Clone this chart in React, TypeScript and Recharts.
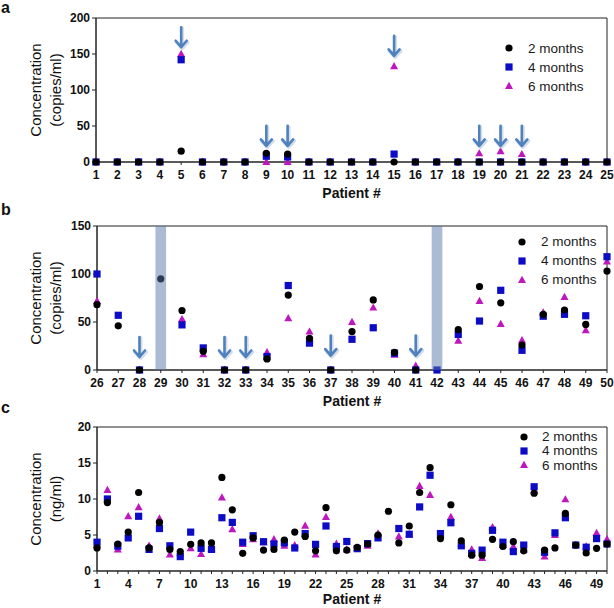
import React from "react";
import { Legend, ReferenceArea, Scatter, ScatterChart, XAxis, YAxis } from "recharts";

const FONT = "'Liberation Sans', Arial, Helvetica, sans-serif";
const BLACK = "#000000";
const BLUE = "#0c0cc6";
const MAGENTA = "#bd17bd";
const ARROW = "#4f81bd";
const SHADE = "#5578a8";

const seriesNames = ["2 months", "4 months", "6 months"];

// panel a: copies/ml, patients 1-25
const patientsA = [1, 2, 3, 4, 5, 6, 7, 8, 9, 10, 11, 12, 13, 14, 15, 16, 17, 18, 19, 20, 21, 22, 23, 24, 25];
const aMonth2 = [0, 0, 0, 0, 15, 0, 0, 0, 12, 11, 0, 0, 0, 0, 0, 0, 0, 0, 0, 0, 0, 0, 0, 0, 0];
const aMonth4 = [0, 0, 0, 0, 142, 0, 0, 0, 8, 7, 0, 0, 0, 0, 11, 0, 0, 0, 0, 0, 0, 0, 0, 0, 0];
const aMonth6 = [0, 0, 0, 0, 150, 0, 0, 0, 0, 0, 0, 0, 0, 0, 133, 0, 0, 0, 12, 15, 11, 0, 0, 0, 0];
const aArrows = [5, 9, 10, 15, 19, 20, 21];
const aArrowTips = [158, 21, 21, 146, 21, 21, 21];
const aYTicks = [0, 50, 100, 150, 200];

// panel b: copies/ml, patients 26-50
const patientsB = [26, 27, 28, 29, 30, 31, 32, 33, 34, 35, 36, 37, 38, 39, 40, 41, 42, 43, 44, 45, 46, 47, 48, 49, 50];
const bMonth2 = [68, 46, 0, 95, 62, 19.5, 0, 0, 11.5, 78, 33, 0, 40, 73, 18.5, 0, null, 42, 87, 70, 26, 58, 62.5, 47.5, 103];
const bMonth4 = [100, 57, 0, null, 47, 23, 0, 0, 14, 88, 28, 0, 32, 44, 17.5, 0, 0, 37, 51, 83, 20.5, 56, 58, 56.5, 118];
const bMonth6 = [72, null, 0, null, 53, 16.5, 0, 0, 18.5, 54, 40, 0, 50, 65, 16, 4.5, null, 30.5, 72, 48, 31, 60, 76, 41.5, 113];
const bArrows = [28, 32, 33, 37, 41];
const bArrowTips = [12.5, 12.5, 12.5, 14, 14];
const bExcluded = [29, 42];
const bYTicks = [0, 50, 100, 150];

// panel c: ng/ml, patients 1-50
const patientsC = [1, 2, 3, 4, 5, 6, 7, 8, 9, 10, 11, 12, 13, 14, 15, 16, 17, 18, 19, 20, 21, 22, 23, 24, 25,
  26, 27, 28, 29, 30, 31, 32, 33, 34, 35, 36, 37, 38, 39, 40, 41, 42, 43, 44, 45, 46, 47, 48, 49, 50];
const cMonth2 = [3.2, 9.5, 3.75, 5.4, 10.9, 3.2, 6.75, 3.0, 2.7, 3.7, 3.9, 3.9, 13.0, 8.5, 2.45, 4.6, 2.9, 3.0, 4.3, 5.4,
  4.8, 2.8, 8.8, 2.8, 2.9, 3.3, 3.75, 5.0, 8.3, 3.9, 6.25, 10.9, 14.35, 4.5, 9.2, 4.2, 2.2, 2.2, 4.4, 3.4,
  4.07, 2.8, 10.8, 2.9, 3.2, 8.0, 3.6, 2.5, 3.15, 3.75];
const cMonth4 = [4.0, 10.0, 3.45, 4.6, 7.6, 3.0, 5.9, 3.5, 2.0, 5.4, 3.15, 3.0, 7.4, 6.75, 4.0, 4.9, 4.07, 3.75, 3.9, 3.2,
  5.2, 3.7, 6.25, 3.4, 4.1, 3.1, 3.8, 4.6, null, 5.9, 5.1, 8.9, 13.3, 5.2, 6.7, 3.5, 2.45, 2.9, 5.65, 4.0,
  2.7, 3.6, 11.7, 2.6, 5.3, 7.4, 3.6, 3.3, 4.5, 3.75];
const cMonth6 = [3.6, 11.25, 3.0, 7.6, 8.85, 3.5, 7.3, 2.3, 2.5, 3.15, 2.35, 3.1, 10.2, 5.8, 3.75, 4.4, 4.0, 4.4, 3.5, 3.6,
  6.3, 2.3, 7.5, 3.8, 3.0, 3.2, 3.5, 5.2, null, 4.8, 5.1, 11.8, 10.55, 5.0, 7.5, 3.8, 3.0, 1.8, 6.1, 3.6,
  3.4, 3.0, 11.2, 2.0, 5.0, 9.95, 3.6, 3.4, 5.3, 4.4];
const cXLabels = [1, 4, 7, 10, 13, 16, 19, 22, 25, 28, 31, 34, 37, 40, 43, 46, 49];
const cYTicks = [0, 5, 10, 15, 20];

const toPoints = (xs: number[], ys: (number | null)[]) =>
  xs.map((x, i) => ({ x, y: ys[i] })).filter((p) => p.y !== null);

const CircleMark = (p: any) => <circle cx={p.cx} cy={p.cy} r={3.6} fill={BLACK} />;
const SquareMark = (p: any) => (
  <rect x={p.cx - 3.6} y={p.cy - 3.6} width={7.2} height={7.2} fill={BLUE} />
);
const TriangleMark = (p: any) => (
  <path d={`M${p.cx},${p.cy - 4.2} L${p.cx + 4},${p.cy + 3} L${p.cx - 4},${p.cy + 3}Z`} fill={MAGENTA} />
);
const ArrowMark = (p: any) => {
  const { cx, cy } = p;
  return (
    <g fill="none" strokeLinecap="round" strokeLinejoin="round">
      <path d={`M${cx + 1},${cy - 20} L${cx + 1},${cy} M${cx - 4.5},${cy - 6} L${cx + 1},${cy} L${cx + 6.5},${cy - 6}`}
        stroke="#b8c7dc" strokeWidth={4} strokeOpacity={0.6} />
      <path d={`M${cx},${cy - 21} L${cx},${cy - 1} M${cx - 5.5},${cy - 7.5} L${cx},${cy - 1} L${cx + 5.5},${cy - 7.5}`}
        stroke={ARROW} strokeWidth={2.6} />
    </g>
  );
};

const markers = [
  <circle key="c" cx={5} cy={5} r={3.6} fill={BLACK} />,
  <rect key="s" x={1.4} y={1.4} width={7.2} height={7.2} fill={BLUE} />,
  <path key="t" d="M5,0.8 L9,8 L1,8Z" fill={MAGENTA} />,
];

const LegendBox = ({ rowH, gap }: { rowH: number; gap: number }) => (
  <div style={{ fontFamily: FONT, fontSize: 13.5, color: "#1a1a1a" }}>
    {seriesNames.map((n, i) => (
      <div key={n} style={{ height: rowH, display: "flex", alignItems: "center", whiteSpace: "nowrap" }}>
        <svg width={10} height={10} style={{ marginRight: gap, flex: "none" }}>
          {markers[i]}
        </svg>
        <span>{n}</span>
      </div>
    ))}
  </div>
);

const tickStyle = { fontFamily: FONT, fontSize: 12, fontWeight: 700, fill: "#111" };

function Panel(props: any) {
  const {
    top, height, margin, yWidth, patients, m2, m4, m6, xLabels, yTicks, unit,
    arrows, tips, shaded, legendLeft, legendTop, rowH, gap, titleDy,
  } = props;
  const xMin = patients[0];
  const xMax = patients[patients.length - 1];
  const yMax = yTicks[yTicks.length - 1];
  const arrowPts = arrows ? arrows.map((x: number, i: number) => ({ x, y: tips[i] })) : [];
  return (
    <div style={{ position: "absolute", left: 0, top }}>
      <ScatterChart width={614} height={height} margin={margin}>
        <XAxis
          type="number"
          dataKey="x"
          domain={[xMin, xMax]}
          ticks={patients}
          interval={0}
          tickFormatter={(v: number) => (xLabels.includes(v) ? String(v) : "")}
          tick={tickStyle}
          tickSize={3}
          tickMargin={5}
          height={30}
          stroke="#222"
          label={{
            content: (lp: any) => {
              const vb = lp.viewBox;
              return (
                <text x={vb.x + vb.width / 2} y={vb.y + titleDy} textAnchor="middle"
                  fontFamily={FONT} fontSize={14} fontWeight={700} fill="#111">
                  Patient #
                </text>
              );
            },
          }}
        />
        <YAxis
          type="number"
          dataKey="y"
          domain={[0, yMax]}
          ticks={yTicks}
          interval={0}
          tick={tickStyle}
          tickSize={4}
          tickMargin={2}
          width={yWidth}
          stroke="#222"
          label={{
            content: (lp: any) => {
              const vb = lp.viewBox;
              const cy = vb.y + vb.height / 2;
              return (
                <g fontFamily={FONT} fontSize={15} fill="#111" textAnchor="middle">
                  <text x={35.5} y={cy} transform={`rotate(-90 35.5 ${cy})`} dominantBaseline="central">
                    Concentration
                  </text>
                  <text x={55} y={cy} transform={`rotate(-90 55 ${cy})`} dominantBaseline="central">
                    {unit}
                  </text>
                </g>
              );
            },
          }}
        />
        <ReferenceArea x1={xMin} x2={xMax} y1={0} y2={yMax} fill="none" stroke="#222" strokeWidth={1} ifOverflow="visible" />
        <Scatter name="6 months" data={toPoints(patients, m6)} shape={TriangleMark} isAnimationActive={false} />
        <Scatter name="4 months" data={toPoints(patients, m4)} shape={SquareMark} isAnimationActive={false} />
        <Scatter name="2 months" data={toPoints(patients, m2)} shape={CircleMark} isAnimationActive={false} />
        {shaded &&
          shaded.map((x: number) => (
            <ReferenceArea key={x} x1={x - 0.25} x2={x + 0.25} y1={0} y2={yMax} fill={SHADE} fillOpacity={0.5}
              stroke="none" ifOverflow="visible" zIndex={700} />
          ))}
        {arrows && <Scatter name="arrows" data={arrowPts} shape={ArrowMark} isAnimationActive={false} legendType="none" />}
        <Legend
          layout="vertical"
          align="center"
          verticalAlign="middle"
          wrapperStyle={{ left: legendLeft, top: legendTop, width: 110 }}
          content={() => <LegendBox rowH={rowH} gap={gap} />}
        />
      </ScatterChart>
    </div>
  );
}

const panelLabel = (text: string, top: number) => (
  <div style={{ position: "absolute", left: 1, top, fontFamily: FONT, fontSize: 16, fontWeight: 700, lineHeight: "16px", color: "#111" }}>
    {text}
  </div>
);

export default function App() {
  return (
    <div style={{ position: "absolute", left: 0, top: 0, width: 614, height: 608, background: "#fff", overflow: "hidden" }}>
      <Panel
        top={0} height={200} margin={{ top: 18, right: 7, bottom: 8, left: 0 }} yWidth={96}
        patients={patientsA} m2={aMonth2} m4={aMonth4} m6={aMonth6} xLabels={patientsA} yTicks={aYTicks}
        unit="(copies/ml)" arrows={aArrows} tips={aArrowTips} titleDy={36}
        legendLeft={504} legendTop={38.5} rowH={19} gap={14}
      />
      <Panel
        top={196} height={214} margin={{ top: 30, right: 7, bottom: 10, left: 0 }} yWidth={97}
        patients={patientsB} m2={bMonth2} m4={bMonth4} m6={bMonth6} xLabels={patientsB} yTicks={bYTicks}
        unit="(copies/ml)" arrows={bArrows} tips={bArrowTips} shaded={bExcluded} titleDy={36}
        legendLeft={517} legendTop={36} rowH={19} gap={14}
      />
      <Panel
        top={408} height={200} margin={{ top: 19, right: 7, bottom: 7, left: 0 }} yWidth={97}
        patients={patientsC} m2={cMonth2} m4={cMonth4} m6={cMonth6} xLabels={cXLabels} yTicks={cYTicks}
        unit="(ng/ml)" titleDy={33} legendLeft={519} legendTop={21.5} rowH={14.3} gap={13}
      />
      {panelLabel("a", 0)}
      {panelLabel("b", 201.5)}
      {panelLabel("c", 399.5)}
    </div>
  );
}
